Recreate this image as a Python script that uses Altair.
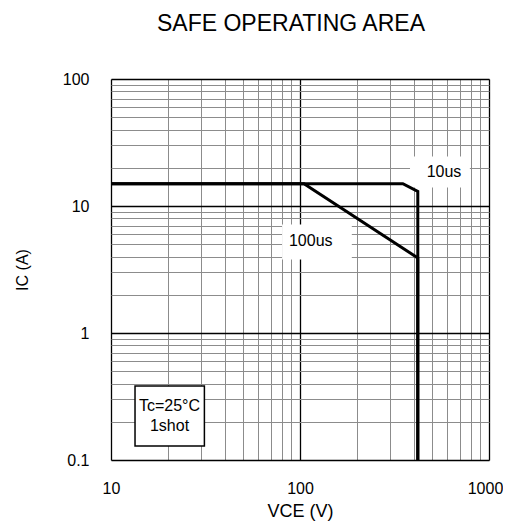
import altair as alt
import pandas as pd

# Axis ticks / gridlines
x_major = [10, 100, 1000]
x_minor = [20, 30, 40, 50, 60, 70, 80, 90, 200, 300, 400, 500, 600, 700, 800, 900]
y_major = [0.1, 1, 10, 100]
y_minor = [0.2, 0.3, 0.4, 0.5, 0.6, 0.7, 0.8, 0.9,
           2, 3, 4, 5, 6, 7, 8, 9,
           20, 30, 40, 50, 60, 70, 80, 90]

# SOA boundaries
sw10_vce = [10, 350, 420, 420]
sw10_ic = [15, 15, 13, 0.1]
sw100_vce = [10, 105, 420, 420]
sw100_ic = [15, 15, 3.9, 0.1]

# curve labels
label_text = ["10us", "100us"]
label_vce = [578, 114]
label_ic = [18.4, 5.26]
label_box_vce1 = [382, 80.4]
label_box_vce2 = [792, 188]
label_box_ic1 = [14.0, 3.79]
label_box_ic2 = [24.5, 7.16]

# condition note
note_lines = ["Tc=25°C", "1shot"]
note_vce = [20.4, 20.4]
note_ic = [0.266, 0.185]
note_box_vce1 = [13.4]
note_box_vce2 = [31.2]
note_box_ic1 = [0.129]
note_box_ic2 = [0.382]

FONT = "Liberation Sans"

rows = []
for i, (v, c) in enumerate(zip(sw10_vce, sw10_ic)):
    rows.append({"pulse": "10us", "vce": v, "ic": c, "o": i})
for i, (v, c) in enumerate(zip(sw100_vce, sw100_ic)):
    rows.append({"pulse": "100us", "vce": v, "ic": c, "o": i})
lines_df = pd.DataFrame(rows)

lbl_df = pd.DataFrame({"t": label_text, "vce": label_vce, "ic": label_ic,
                       "x1": label_box_vce1, "x2": label_box_vce2,
                       "y1": label_box_ic1, "y2": label_box_ic2})
note_df = pd.DataFrame({"t": note_lines, "vce": note_vce, "ic": note_ic})
note_box_df = pd.DataFrame({"x1": note_box_vce1, "x2": note_box_vce2,
                            "y1": note_box_ic1, "y2": note_box_ic2})

xt = "datum.value == 10 || datum.value == 100 || datum.value == 1000"
yt = "datum.value == 0.1 || datum.value == 1 || datum.value == 10 || datum.value == 100"

x_scale = alt.Scale(type="log", domain=[10, 1000], nice=False)
y_scale = alt.Scale(type="log", domain=[0.1, 100], nice=False)

x_axis = alt.Axis(values=x_major + x_minor, format="~g",
                  labelExpr=f"({xt}) ? datum.label : ''",
                  labelOffset={"condition": {"test": "datum.value == 1000", "value": -4}, "value": 0},
                  grid=True,
                  gridColor={"condition": {"test": xt, "value": "#000000"}, "value": "#8c8c8c"},
                  gridWidth={"condition": {"test": xt, "value": 1.3}, "value": 1},
                  ticks=False, domain=False, labelOverlap=False, labelFlush=False,
                  labelPadding=20, labelFontSize=16, labelFont=FONT, labelColor="black",
                  title="VCE (V)", titleFont=FONT, titleFontSize=18, titleFontWeight="normal",
                  titleColor="black", titlePadding=6)
y_axis = alt.Axis(values=y_major + y_minor, format="~g",
                  labelExpr=f"({yt}) ? datum.label : ''",
                  grid=True,
                  gridColor={"condition": {"test": yt, "value": "#000000"}, "value": "#8c8c8c"},
                  gridWidth={"condition": {"test": yt, "value": 1.3}, "value": 1},
                  ticks=False, domain=False, labelOverlap=False, labelFlush=False,
                  labelPadding=22, labelFontSize=16, labelFont=FONT, labelColor="black",
                  title="IC (A)", titleFont=FONT, titleFontSize=16, titleFontWeight="normal",
                  titleColor="black", titlePadding=32)


def X(field):
    return alt.X(f"{field}:Q", scale=x_scale, axis=x_axis)


def Y(field):
    return alt.Y(f"{field}:Q", scale=y_scale, axis=y_axis)


lines = alt.Chart(lines_df).mark_line(color="black", strokeWidth=3, strokeJoin="miter").encode(
    x=X("vce"), y=Y("ic"), detail="pulse:N", order="o:Q")

lbl_boxes = alt.Chart(lbl_df).mark_rect(fill="white", stroke=None).encode(
    x=X("x1"), x2="x2:Q", y=Y("y1"), y2="y2:Q")
lbl_text = alt.Chart(lbl_df).mark_text(font=FONT, fontSize=16, color="black").encode(
    x=X("vce"), y=Y("ic"), text="t:N")

note_box = alt.Chart(note_box_df).mark_rect(fill="white", stroke="black", strokeWidth=1.5).encode(
    x=X("x1"), x2="x2:Q", y=Y("y1"), y2="y2:Q")
note_text = alt.Chart(note_df).mark_text(font=FONT, fontSize=16, color="black").encode(
    x=X("vce"), y=Y("ic"), text="t:N")

chart = alt.layer(lbl_boxes, lines, lbl_text, note_box, note_text).properties(
    width=378, height=381,
    title=alt.TitleParams("SAFE OPERATING AREA", font=FONT, fontSize=23, fontWeight="normal",
                          color="black", anchor="middle", frame="group", offset=17, dx=-9,
                          baseline="alphabetic"),
    autosize=alt.AutoSizeParams(type="none"),
    padding={"left": 103, "top": 71, "right": 14, "bottom": 61},
).configure_view(stroke="black", strokeWidth=1.5).configure(background="white")

chart.save("out.html", embed_options={"renderer": "svg", "actions": False})
